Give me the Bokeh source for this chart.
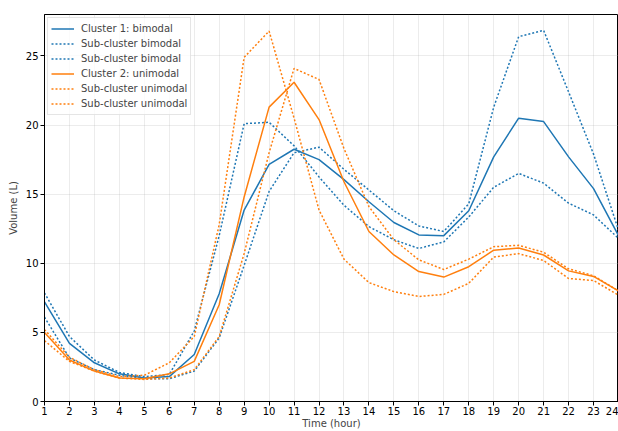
from bokeh.plotting import figure
from bokeh.models import Legend, LegendItem, Range1d, FixedTicker
from bokeh.embed import file_html
from bokeh.resources import INLINE

hours = list(range(1, 25))

cluster1_bimodal = [7.2, 4.2, 2.8, 2.0, 1.7, 1.8, 3.4, 7.8, 13.85, 17.15, 18.25, 17.5,
                    16.05, 14.45, 12.95, 12.05, 12.0, 13.8, 17.7, 20.5, 20.25, 17.7, 15.4, 12.0]
sub_bimodal_a = [7.85, 4.7, 3.0, 2.1, 1.8, 1.95, 5.1, 12.0, 20.1, 20.2, 18.5, 16.25,
                 14.2, 12.65, 11.7, 11.07, 11.55, 13.35, 15.5, 16.5, 15.8, 14.35, 13.5, 11.8]
sub_bimodal_b = [6.1, 3.15, 2.3, 1.9, 1.65, 1.65, 2.2, 4.6, 9.85, 15.2, 18.0, 18.4,
                 16.8, 15.3, 13.8, 12.7, 12.3, 14.3, 21.3, 26.4, 26.85, 22.4, 17.9, 12.4]
cluster2_unimodal = [5.0, 3.0, 2.2, 1.7, 1.65, 2.0, 2.9, 7.0, 14.8, 21.3, 23.1, 20.4,
                     15.9, 12.3, 10.6, 9.4, 9.0, 9.75, 10.95, 11.1, 10.6, 9.45, 9.05, 8.0]
sub_unimodal_a = [5.2, 3.2, 2.3, 1.8, 1.9, 2.8, 4.7, 12.8, 24.9, 26.8, 20.5, 13.85,
                  10.3, 8.6, 7.95, 7.6, 7.75, 8.55, 10.45, 10.7, 10.2, 8.9, 8.75, 7.7]
sub_unimodal_b = [4.4, 2.9, 2.2, 1.7, 1.6, 1.7, 2.3, 4.7, 10.7, 18.0, 24.1, 23.3,
                  18.3, 14.1, 11.7, 10.25, 9.55, 10.3, 11.2, 11.3, 10.8, 9.6, 9.1, 8.0]

labels = ["Cluster 1: bimodal", "Sub-cluster bimodal", "Sub-cluster bimodal",
          "Cluster 2: unimodal", "Sub-cluster unimodal", "Sub-cluster unimodal"]
y_ticks = [0, 5, 10, 15, 20, 25]

BLUE = "#1f77b4"
ORANGE = "#ff7f0e"
FONT = "DejaVu Sans"

p = figure(width=618, height=431, output_backend="svg", toolbar_location=None,
           x_range=Range1d(1, 24), y_range=Range1d(0, 28),
           min_border_left=44, min_border_top=14, min_border_right=0, min_border_bottom=10)

series = [
    (cluster1_bimodal, BLUE, "solid"),
    (sub_bimodal_a, BLUE, "2 2"),
    (sub_bimodal_b, BLUE, "2 2"),
    (cluster2_unimodal, ORANGE, "solid"),
    (sub_unimodal_a, ORANGE, "2 2"),
    (sub_unimodal_b, ORANGE, "2 2"),
]
renderers = []
for ys, col, dash in series:
    r = p.line(hours, ys, line_color=col, line_width=1.5, line_dash=dash)
    renderers.append(r)

legend = Legend(items=[LegendItem(label=l, renderers=[r]) for l, r in zip(labels, renderers)],
                location="top_left")
legend.label_text_font = FONT
legend.label_text_font_size = "10px"
legend.label_height = 15
legend.glyph_height = 15
legend.glyph_width = 23
legend.label_standoff = 7
legend.spacing = 0
legend.padding = 3
legend.margin = 3
legend.border_line_color = "#cccccc"
legend.border_line_width = 1
legend.background_fill_alpha = 0.8
p.add_layout(legend)

p.xaxis.ticker = FixedTicker(ticks=hours)
p.yaxis.ticker = FixedTicker(ticks=y_ticks)
p.xaxis.axis_label = "Time (hour)"
p.yaxis.axis_label = "Volume (L)"
for ax in (p.xaxis, p.yaxis):
    ax.axis_label_text_font = FONT
    ax.axis_label_text_font_size = "10px"
    ax.axis_label_text_font_style = "normal"
    ax.major_label_text_font = FONT
    ax.major_label_text_font_size = "10px"
    ax.major_label_text_color = "#000000"
    ax.axis_line_color = "#000000"
    ax.major_tick_line_color = "#000000"
    ax.major_tick_in = 0
    ax.major_tick_out = 4
    ax.minor_tick_line_color = None
    ax.major_label_standoff = 2
    ax.axis_label_standoff = 4
p.xaxis.major_label_standoff = 1
p.xaxis.axis_label_standoff = 0

p.grid.grid_line_color = "#b0b0b0"
p.grid.grid_line_alpha = 0.3
p.grid.grid_line_width = 0.8
p.outline_line_color = "#000000"
p.outline_line_width = 1
p.background_fill_color = "white"
p.border_fill_color = "white"

open("out.html", "w").write(file_html(p, INLINE))
